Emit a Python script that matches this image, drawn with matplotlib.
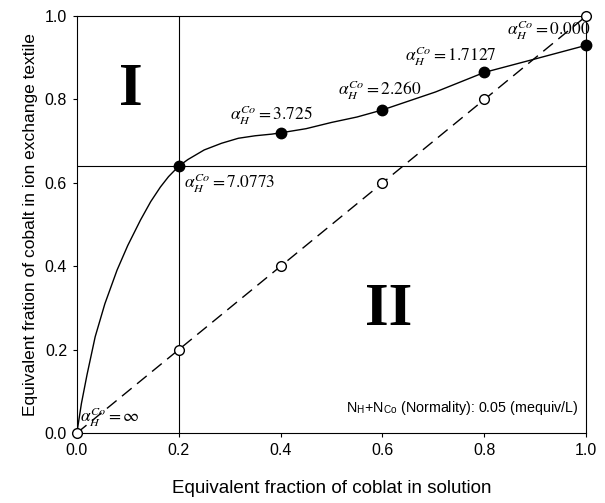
import matplotlib.pyplot as plt

# measured points (filled = ion exchange textile, open = 45 degree line)
x_pts = [0.0, 0.2, 0.4, 0.6, 0.8, 1.0]
y_open = [0.0, 0.2, 0.4, 0.6, 0.8, 1.0]
x_filled = [0.2, 0.4, 0.6, 0.8, 1.0]
y_filled = [0.64, 0.72, 0.775, 0.865, 0.93]

# fitted curve
curve_x = [0.0, 0.009, 0.02, 0.036, 0.055, 0.079, 0.10, 0.125, 0.145, 0.164,
           0.18, 0.2, 0.218, 0.25, 0.284, 0.317, 0.35, 0.383, 0.4, 0.45,
           0.5, 0.55, 0.6, 0.704, 0.8, 0.902, 1.0]
curve_y = [0.0, 0.071, 0.14, 0.231, 0.31, 0.391, 0.45, 0.511, 0.555, 0.59,
           0.615, 0.64, 0.656, 0.679, 0.695, 0.707, 0.713, 0.717, 0.72, 0.73,
           0.745, 0.758, 0.775, 0.818, 0.865, 0.898, 0.93]

alpha_labels = ["7.0773", "3.725", "2.260", "1.7127", "0.000", r"\infty"]
label_x = [0.21, 0.30, 0.512, 0.645, 0.844, 0.006]
label_y = [0.60, 0.762, 0.823, 0.904, 0.966, 0.038]

x_cross = 0.2
y_cross = 0.64

plt.rcParams['mathtext.fontset'] = 'stix'
plt.rcParams['font.family'] = ['Liberation Sans', 'DejaVu Sans']

fig = plt.figure(figsize=(6.05, 5.03), dpi=100)
ax = fig.add_axes([0.127, 0.139, 0.842, 0.829])

ax.axvline(x_cross, color='black', lw=0.8)
ax.axhline(y_cross, color='black', lw=0.8)

ax.plot(curve_x, curve_y, color='black', lw=1.0, zorder=3)
ax.plot(x_pts, y_open, color='black', lw=1.0, linestyle=(0, (9, 5)),
        marker='o', markersize=7, markerfacecolor='white',
        markeredgecolor='black', markeredgewidth=1.0, clip_on=False, zorder=4)
ax.plot(x_filled, y_filled, linestyle='none', marker='o', markersize=7.5,
        color='black', clip_on=False, zorder=5)

for lab, lx, ly in zip(alpha_labels, label_x, label_y):
    ax.text(lx, ly, r'$\alpha_H^{Co}=' + lab + '$', fontsize=12.5,
            ha='left', va='center', zorder=6)

ax.text(0.106, 0.822, 'I', fontsize=44, fontweight='bold', family='Liberation Serif',
        ha='center', va='center')
ax.text(0.612, 0.296, 'II', fontsize=44, fontweight='bold', family='Liberation Serif',
        ha='center', va='center')

ax.text(0.985, 0.06, r'N$_\mathregular{H}$+N$_\mathregular{Co}$ (Normality): 0.05 (mequiv/L)',
        fontsize=10.3, ha='right', va='center')

ax.set_xlim(0, 1)
ax.set_ylim(0, 1)
ax.set_xticks([0.0, 0.2, 0.4, 0.6, 0.8, 1.0])
ax.set_yticks([0.0, 0.2, 0.4, 0.6, 0.8, 1.0])
ax.set_xticklabels(['0.0', '0.2', '0.4', '0.6', '0.8', '1.0'])
ax.set_yticklabels(['0.0', '0.2', '0.4', '0.6', '0.8', '1.0'])
ax.tick_params(direction='out', length=3, width=0.8, labelsize=11.5, pad=4)
for s in ax.spines.values():
    s.set_linewidth(0.8)

ax.set_xlabel('Equivalent fraction of coblat in solution', fontsize=13.5, labelpad=16)
ax.set_ylabel('Equivalent fration of cobalt in ion exchange textile', fontsize=12.5, labelpad=5)

fig.savefig('out.png', dpi=100)
